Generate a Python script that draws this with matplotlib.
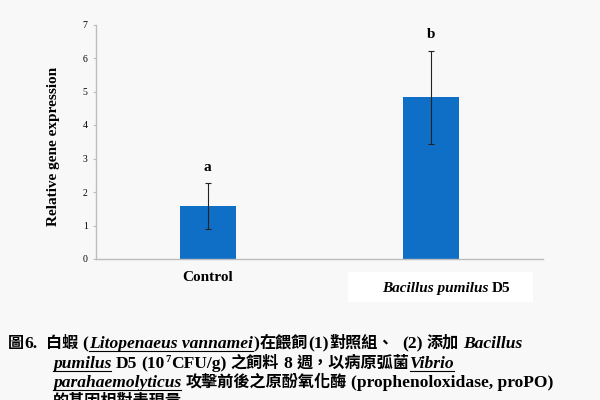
import numpy as np
import matplotlib
matplotlib.use('Agg')
import matplotlib.pyplot as plt
from matplotlib.patches import Rectangle
from matplotlib.lines import Line2D

# data
groups = ['Control', 'Bacillus pumilus D5']
means = [1.58, 4.83]
errors = [0.68, 1.39]
letters = ['a', 'b']

SERIF = 'Liberation Serif'
CJK = 'Noto Sans CJK TC'
BG = '#f8f8f8'
BAR = '#0f6fc6'

W, H = 600, 400

# caption lines: (text, kind); kind: b=bold serif, bi=bold italic, biu=underlined,
# sup=superscript, c=CJK, ' '=gap
caption = [
  [('圖', 'c'), ('6.', 'b'), ('  ', ' '), ('白蝦', 'c'), (' ', ' '), ('(', 'b'),
   ('Litopenaeus vannamei', 'biu'), (')', 'b'), ('在餵飼', 'c'), ('(1)', 'b'),
   ('對照組、', 'c'), ('  ', ' '), ('(2)', 'b'), (' ', ' '), ('添加', 'c'), (' ', ' '),
   ('Bacillus', 'bi')],
  [('pumilus', 'biu'), (' ', ' '), ('D5', 'b'), (' ', ' '), ('(10', 'b'), ('7', 'sup'),
   ('CFU/g)', 'b'), (' ', ' '), ('之飼料', 'c'), (' ', ' '), ('8', 'b'), (' ', ' '),
   ('週，以病原弧菌', 'c'), ('Vibrio', 'biu')],
  [('parahaemolyticus', 'biu'), (' ', ' '), ('攻擊前後之原酚氧化酶', 'c'), (' ', ' '),
   ('(prophenoloxidase, proPO)', 'b')],
  [('的基因相對表現量', 'c')],
]


def px(x, y):
  return x / W, 1 - y / H


def draw_segments(fig, renderer, x, y, segs, size=12):
  """Place styled text pieces one after another on a baseline (pixel coords)."""
  for text, kind in segs:
    if kind == ' ':
      x += 0.3 * size * len(text)
      continue
    kw = dict(fontsize=size, family=SERIF, weight='bold', va='baseline', ha='left', color='black')
    yy = y
    if kind in ('bi', 'biu'):
      kw['style'] = 'italic'
    elif kind == 'c':
      kw['family'] = CJK
      kw['fontsize'] = size * 0.92
    elif kind == 'sup':
      kw['fontsize'] = size * 0.6
      yy = y - 0.5 * size
    t = fig.text(*px(x, yy), text, **kw)
    bb = t.get_window_extent(renderer)
    if kind == 'biu':
      fig.add_artist(Line2D([bb.x0 / W, bb.x1 / W], [1 - (y + 2.5) / H] * 2,
                            color='black', lw=0.8))
    x += bb.width + 0.5
  return x


fig = plt.figure(figsize=(6, 4), dpi=100, facecolor=BG)
ax = fig.add_axes([0.16, 0.3525, 0.745, 0.58625])
ax.set_facecolor(BG)

x = np.arange(len(groups))
ax.bar(x, means, width=0.25, color=BAR, zorder=2)
ax.errorbar(x, means, yerr=errors, fmt='none', ecolor='#222222', elinewidth=0.8,
            capsize=2, capthick=0.8, zorder=3)
for i, (m, e, l) in enumerate(zip(means, errors, letters)):
  ax.text(i, m + e + 0.28, l, ha='center', va='bottom', family=SERIF,
          weight='bold', fontsize=11)

ax.set_xlim(-0.5, 1.5)
ax.set_ylim(0, 7)
ax.set_yticks(range(8))
ax.set_xticks([])
for s in ['top', 'right']:
  ax.spines[s].set_visible(False)
for s in ['left', 'bottom']:
  ax.spines[s].set_color('#bdbdbd')
  ax.spines[s].set_linewidth(1.0)
ax.tick_params(axis='y', length=2.5, width=0.8, color='#bdbdbd', pad=3.5,
               labelsize=7)
for lab in ax.get_yticklabels():
  lab.set_family(SERIF)
ax.set_ylabel('Relative gene expression', family=SERIF, weight='bold', fontsize=11)
ax.yaxis.set_label_coords(-0.08, 0.478)

renderer = fig.canvas.get_renderer()

# category labels
ax.text(0, -0.077, groups[0], transform=ax.get_xaxis_transform(), ha='center',
        va='center', family=SERIF, weight='bold', fontsize=11)
fig.add_artist(Rectangle(px(348, 302), 185 / W, 30 / H, facecolor='white',
                         edgecolor='none', transform=fig.transFigure))
genus = groups[1].rsplit(' ', 1)
draw_segments(fig, renderer, 382, 292, [(genus[0], 'bi'), (' ', ' '), (genus[1], 'b')], size=11)

# caption
ys = [348, 368, 387, 406]
xs = [8, 53, 53, 53]
for segs, xx, yy in zip(caption, xs, ys):
  draw_segments(fig, renderer, xx, yy, segs, size=12.6)

fig.savefig('out.png', dpi=100, facecolor=BG)
